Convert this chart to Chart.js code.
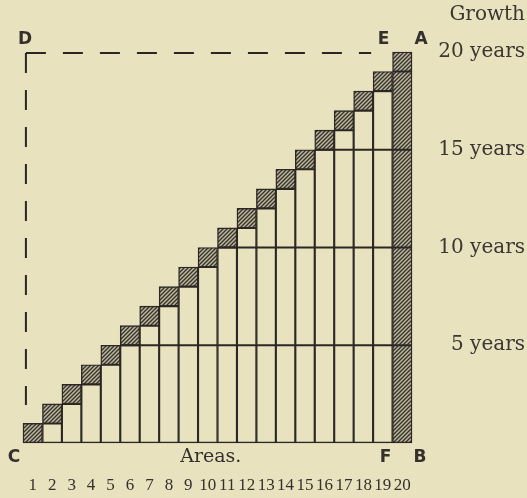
<!DOCTYPE html>
<html lang="en">
<head>
    <meta charset="UTF-8">
    <title>Growth and Areas</title>
    <script src="https://cdn.jsdelivr.net/npm/chart.js"></script>
    <style>
        body {
            margin: 0;
            padding: 0;
            background-color: #e8e2bf;
        }
        .chart-box {
            width: 527px;
            height: 498px;
        }
    </style>
</head>
<body>

    <div class="chart-box"><canvas id="growthChart"></canvas></div>

    <script>
        // one column per area, cut in rotation
        const areas = [1, 2, 3, 4, 5, 6, 7, 8, 9, 10, 11, 12, 13, 14, 15, 16, 17, 18, 19, 20];
        // age of each area before the last year's growth
        const standAge = [0, 1, 2, 3, 4, 5, 6, 7, 8, 9, 10, 11, 12, 13, 14, 15, 16, 17, 18, 19];
        // last year's growth (the hatched squares)
        const yearGrowth = [1, 1, 1, 1, 1, 1, 1, 1, 1, 1, 1, 1, 1, 1, 1, 1, 1, 1, 1, 1];
        const yearTicks = [5, 10, 15, 20];
        const cornerLabels = [
            { text: 'D', x: 0.5, y: 20, dx: 2, dy: -12 },
            { text: 'E', x: 19.5, y: 20, dx: -9, dy: -12 },
            { text: 'A', x: 20.5, y: 20, dx: 9, dy: -12 },
            { text: 'C', x: 0.5, y: 0, dx: -9, dy: 15 },
            { text: 'F', x: 19.5, y: 0, dx: -7, dy: 15 },
            { text: 'B', x: 20.5, y: 0, dx: 8, dy: 15 }
        ];

        const ink = '#2b2724';
        const paperColor = '#e8e2bf';

        function makeHatch() {
            const c = document.createElement('canvas');
            c.width = 4;
            c.height = 4;
            const g = c.getContext('2d');
            g.fillStyle = '#bdb79a';
            g.fillRect(0, 0, 4, 4);
            g.strokeStyle = '#35312d';
            g.lineWidth = 1.3;
            g.beginPath();
            g.moveTo(-1, 5); g.lineTo(5, -1);
            g.moveTo(-1, 1); g.lineTo(1, -1);
            g.moveTo(3, 5); g.lineTo(5, 3);
            g.stroke();
            return g.createPattern(c, 'repeat');
        }
        const hatch = makeHatch();

        const baseData = [];
        const baseColors = [];
        const topData = [];
        areas.forEach((a, i) => {
            if (standAge[i] > 0) {
                baseData.push({ x: a, y: [0, standAge[i]] });
                baseColors.push(a === 20 ? hatch : paperColor);
            }
            topData.push({ x: a, y: [standAge[i], standAge[i] + yearGrowth[i]] });
        });

        function levelLine(level) {
            return {
                type: 'line',
                data: [{ x: level + 0.5, y: level }, { x: 20.5, y: level }],
                borderColor: ink,
                borderWidth: 1.8,
                pointRadius: 0,
                order: 0
            };
        }

        function dashed(points) {
            return {
                type: 'line',
                data: points,
                borderColor: ink,
                borderWidth: 2,
                borderDash: [20, 17],
                pointRadius: 0,
                clip: false,
                order: 0
            };
        }

        const paper = {
            id: 'paper',
            beforeDraw(chart) {
                const ctx = chart.ctx;
                ctx.save();
                ctx.fillStyle = paperColor;
                ctx.fillRect(0, 0, chart.width, chart.height);
                ctx.restore();
            }
        };

        const letters = {
            id: 'letters',
            afterDraw(chart) {
                const ctx = chart.ctx;
                const xs = chart.scales.x, ys = chart.scales.y;
                ctx.save();
                ctx.fillStyle = '#35302c';
                ctx.textAlign = 'center';
                ctx.textBaseline = 'middle';
                ctx.font = '600 17px "DejaVu Sans"';
                cornerLabels.forEach(p => {
                    ctx.fillText(p.text, xs.getPixelForValue(p.x) + p.dx, ys.getPixelForValue(p.y) + p.dy);
                });
                ctx.font = '19px "DejaVu Serif"';
                ctx.fillText('Areas.', xs.getPixelForValue(10) + 3, ys.getPixelForValue(0) + 14);
                ctx.restore();
            }
        };

        new Chart(document.getElementById('growthChart'), {
            type: 'bar',
            data: {
                datasets: [
                    levelLine(5),
                    levelLine(10),
                    levelLine(15),
                    {
                        type: 'line',
                        data: [{ x: 0.5, y: 0 }, { x: 20.5, y: 0 }],
                        borderColor: ink,
                        borderWidth: 2.5,
                        pointRadius: 0,
                        order: 0
                    },
                    // the dashed D corner, both arms start at the corner
                    dashed([{ x: 0.65, y: 19.95 }, { x: 0.65, y: 1.95 }]),
                    dashed([{ x: 0.65, y: 19.95 }, { x: 18.4, y: 19.95 }]),
                    {
                        label: 'Stand',
                        data: baseData,
                        backgroundColor: baseColors,
                        borderColor: ink,
                        borderWidth: 1.4,
                        borderSkipped: false,
                        grouped: false,
                        barPercentage: 1,
                        categoryPercentage: 1,
                        clip: false,
                        order: 2
                    },
                    {
                        label: 'Growth',
                        data: topData,
                        backgroundColor: hatch,
                        borderColor: ink,
                        borderWidth: 1.4,
                        borderSkipped: false,
                        grouped: false,
                        barPercentage: 1,
                        categoryPercentage: 1,
                        clip: false,
                        order: 1
                    }
                ]
            },
            options: {
                responsive: true,
                maintainAspectRatio: false,
                animation: false,
                layout: { padding: { left: 23, right: 2, bottom: 0 } },
                plugins: {
                    legend: { display: false },
                    tooltip: { enabled: false },
                    title: {
                        display: true,
                        text: 'Growth',
                        align: 'end',
                        color: '#3b3631',
                        font: { family: '"DejaVu Serif"', size: 20, weight: 'normal' },
                        padding: { top: 3, bottom: 25 }
                    }
                },
                scales: {
                    x: {
                        type: 'linear',
                        min: 0.5,
                        max: 20.5,
                        offset: false,
                        grid: { display: false },
                        border: { display: false },
                        afterBuildTicks: s => { s.ticks = areas.map(v => ({ value: v })); },
                        ticks: {
                            color: '#35302c',
                            padding: 24,
                            maxRotation: 0,
                            autoSkip: false,
                            font: { family: '"Liberation Serif"', size: 17 },
                            callback: v => String(v)
                        },
                        afterFit: s => { s.height = 55; }
                    },
                    y: {
                        position: 'right',
                        min: 0,
                        max: 20,
                        grid: { display: false },
                        border: { display: false },
                        afterBuildTicks: s => { s.ticks = yearTicks.map(v => ({ value: v })); },
                        ticks: {
                            color: '#3b3631',
                            padding: 26,
                            crossAlign: 'far',
                            font: { family: '"DejaVu Serif"', size: 20 },
                            callback: v => v + ' years'
                        },
                        afterFit: s => { s.width = 113; }
                    }
                }
            },
            plugins: [paper, letters]
        });
    </script>

</body>
</html>
